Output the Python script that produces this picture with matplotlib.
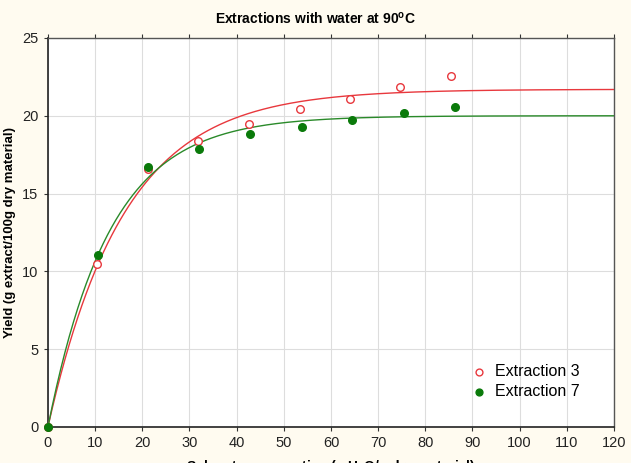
import numpy as np
import matplotlib
matplotlib.use("Agg")
import matplotlib.pyplot as plt

plt.rcParams['font.family'] = ['Liberation Sans', 'DejaVu Sans']

# Measured data
x_ext3 = [0, 10.4, 21.2, 31.8, 42.6, 53.4, 64.0, 74.6, 85.4]
y_ext3 = [0, 10.45, 16.6, 18.35, 19.45, 20.45, 21.05, 21.85, 22.55]
x_ext7 = [0, 10.6, 21.2, 32.0, 42.9, 53.8, 64.4, 75.5, 86.3]
y_ext7 = [0, 11.05, 16.7, 17.85, 18.8, 19.25, 19.75, 20.2, 20.55]

# Fitted model parameters  y = A * (1 - exp(-k x))
fit3_A, fit3_k = 21.7, 0.062
fit7_A, fit7_k = 20.0, 0.076

xticks = list(range(0, 121, 10))
yticks = list(range(0, 26, 5))

fig = plt.figure(figsize=(6.31, 4.63), dpi=100, facecolor='#fffbf0')
ax = fig.add_axes([0.076, 0.078, 0.897, 0.840])
ax.set_facecolor('white')

xs = np.linspace(0, 120, 400)
ax.plot(xs, fit3_A * (1 - np.exp(-fit3_k * xs)), color='#e8383d', lw=1.0, zorder=3)
ax.plot(xs, fit7_A * (1 - np.exp(-fit7_k * xs)), color='#2a8a2a', lw=1.0, zorder=3)

ax.scatter(x_ext3, y_ext3, s=30, facecolors='white', edgecolors='#e8383d',
           linewidths=1.0, label='Extraction 3', zorder=4, clip_on=False)
ax.scatter(x_ext7, y_ext7, s=30, color='#0a7a0a', label='Extraction 7', zorder=5,
           clip_on=False)

ax.set_xlim(0, 120)
ax.set_ylim(0, 25)
ax.set_xticks(xticks)
ax.set_yticks(yticks)
ax.grid(True, color='#dddddd', lw=0.8)
ax.set_axisbelow(True)
ax.tick_params(axis='both', labelsize=10.5, direction='out', length=3, top=True,
               colors='#333333', labelcolor='#222222')
ax.tick_params(axis='y', pad=4)

for side in ['left', 'bottom']:
    ax.spines[side].set_color('#222222')
    ax.spines[side].set_linewidth(1.2)
for side in ['top', 'right']:
    ax.spines[side].set_color('#555555')
    ax.spines[side].set_linewidth(1.0)

ax.set_title('Extractions with water at 90$^{\\mathregular{o}}$C', fontsize=10,
             fontweight='bold', pad=10, x=0.472)
ax.set_xlabel('Solvent consumption (g H$_{\\mathregular{2}}$O/g dry material)',
              fontsize=10, fontweight='bold', labelpad=6)
ax.set_ylabel('Yield (g extract/100g dry material)', fontsize=9.5,
              fontweight='bold', labelpad=4)

leg = ax.legend(loc='lower right', bbox_to_anchor=(0.965, 0.035), frameon=False,
                fontsize=11.5, handletextpad=0.5, labelspacing=0.3,
                handlelength=1.0, markerscale=0.9)

fig.savefig('out.png', dpi=100, facecolor=fig.get_facecolor())
